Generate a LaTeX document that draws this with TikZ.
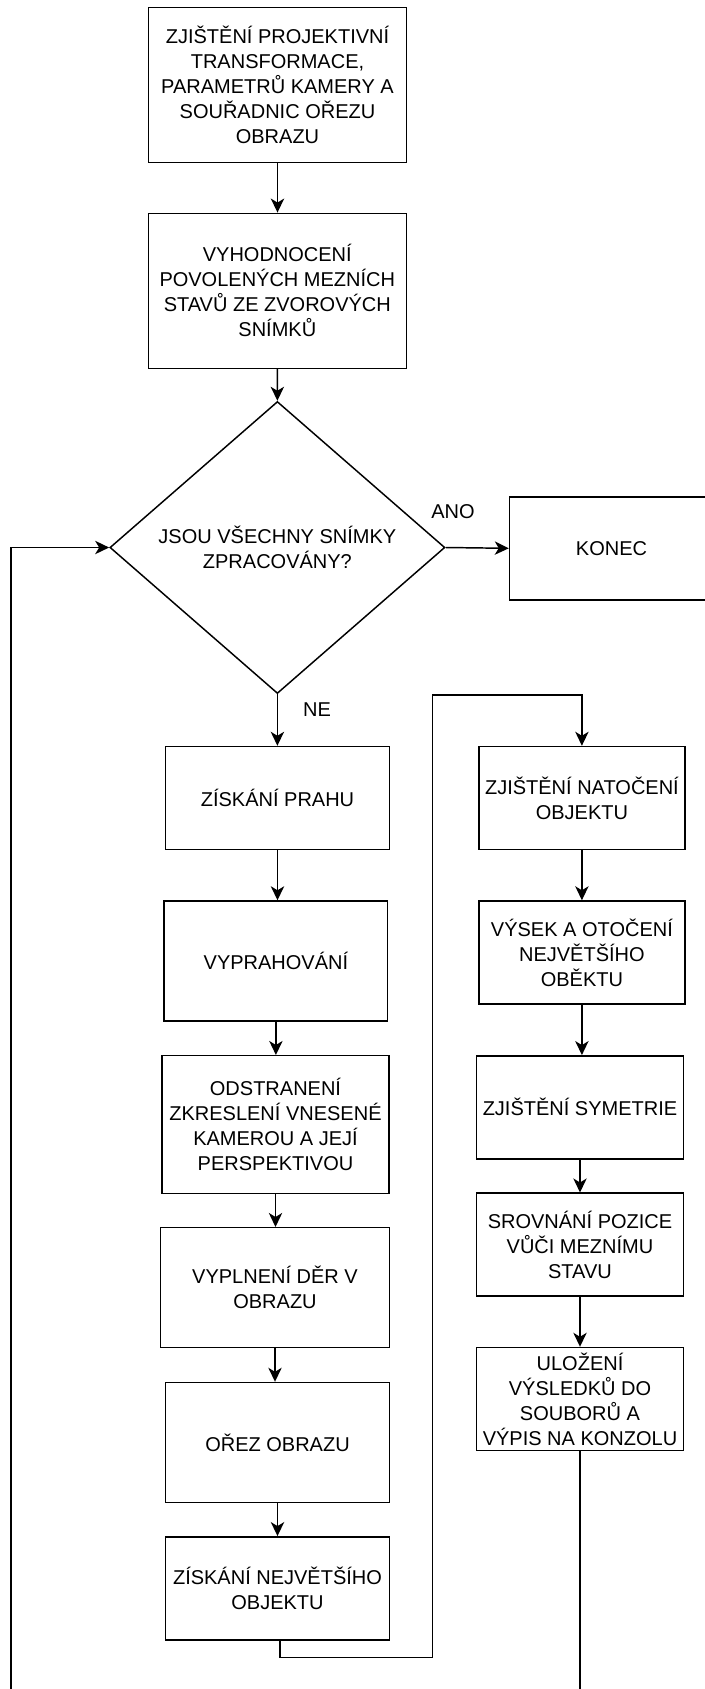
\documentclass[tikz,border=0pt]{standalone}
\usepackage{fontspec}
\setmainfont{Liberation Sans}
\usetikzlibrary{shapes.geometric,arrows.meta}

\tikzset{
  x=0.75pt, y=-0.75pt,
  every node/.style={font=\fontsize{15pt}{18.75pt}\selectfont, align=center, inner sep=0pt},
  stepbox/.style={draw, line width=1.1pt, rectangle, minimum width=#1},
  stepbox/.default=168pt,
  decision/.style={draw, line width=1.1pt, diamond, minimum width=251.25pt, minimum height=219pt},
  flow/.style={line width=1.1pt, -{Stealth[length=10.5pt, width=10pt, inset=3pt]}},
  plain/.style={line width=1.1pt}
}

\begin{document}
\begin{tikzpicture}
\clip (0,0) rectangle (705,1689);
\fill[white] (0,0) rectangle (705,1689);

% main column
\node[stepbox=193.5pt, minimum height=116.25pt] (b1) at (277.5,84.8)
  {ZJIŠTĚNÍ PROJEKTIVNÍ\\TRANSFORMACE,\\PARAMETRŮ KAMERY A\\SOUŘADNIC OŘEZU\\OBRAZU};
\node[stepbox=193.5pt, minimum height=116.25pt] (b2) at (277.3,290.8)
  {VYHODNOCENÍ\\POVOLENÝCH MEZNÍCH\\STAVŮ ZE ZVOROVÝCH\\SNÍMKŮ};
\node[decision] (dec) at (277.4,547.5) {JSOU VŠECHNY SNÍMKY\\ZPRACOVÁNY?};
\node[stepbox=153pt, minimum height=77.25pt] (konec) at (611.5,548.3) {KONEC};

\node[stepbox=168pt, minimum height=77.25pt] (b3) at (277.5,798) {ZÍSKÁNÍ PRAHU};
\node[stepbox=167.6pt, minimum height=90pt] (b4) at (275.9,961) {VYPRAHOVÁNÍ};
\node[stepbox=170.25pt, minimum height=103.2pt] (b5) at (275.5,1124.5)
  {ODSTRANENÍ\\ZKRESLENÍ VNESENÉ\\KAMEROU A JEJÍ\\PERSPEKTIVOU};
\node[stepbox=171.75pt, minimum height=90pt] (b6) at (275,1287.7) {VYPLNENÍ DĚR V\\OBRAZU};
\node[stepbox=168pt, minimum height=90pt] (b7) at (277.5,1442.5) {OŘEZ OBRAZU};
\node[stepbox=168pt, minimum height=77.25pt] (b8) at (277.5,1588.3) {ZÍSKÁNÍ NEJVĚTŠÍHO\\OBJEKTU};

% right column
\node[stepbox=154.5pt, minimum height=77.25pt] (r1) at (581.9,798) {ZJIŠTĚNÍ NATOČENÍ\\OBJEKTU};
\node[stepbox=154.5pt, minimum height=77.25pt] (r2) at (581.9,952.5) {VÝSEK A OTOČENÍ\\NEJVĚTŠÍHO\\OBĚKTU};
\node[stepbox=155.25pt, minimum height=77.25pt] (r3) at (580,1107.3) {ZJIŠTĚNÍ SYMETRIE};
\node[stepbox=155.25pt, minimum height=77.25pt] (r4) at (580,1244.7) {SROVNÁNÍ POZICE\\VŮČI MEZNÍMU\\STAVU};
\node[stepbox=155.25pt, minimum height=77.25pt] (r5) at (580,1399) {ULOŽENÍ\\VÝSLEDKŮ DO\\SOUBORŮ A\\VÝPIS NA KONZOLU};

% branch labels
\node (ano) at (453,511.7) {ANO};
\node (ne) at (317,710) {NE};

% routing points
\coordinate (j1) at (432.6,1657.3);
\coordinate (j2) at (432.6,695);
\coordinate (loopbot) at (11.2,1710);

% connectors
\draw[flow] (b1.south) -- (b1.south |- b2.north);
\draw[flow] (b2.south) -- (dec.north);
\draw[flow] (dec.east) -- (konec.west);
\draw[flow] (dec.south) -- (dec.south |- b3.north);
\draw[flow] (b3.south) -- (b3.south |- b4.north);
\draw[flow] (b4.south) -- (b4.south |- b5.north);
\draw[flow] (b5.south) -- (b5.south |- b6.north);
\draw[flow] (b6.south) -- (b6.south |- b7.north);
\draw[flow] (b7.south) -- (b7.south |- b8.north);
\draw[flow] ([xshift=2pt]b8.south) |- (j1) -- (j2) -| (r1.north);
\draw[flow] (r1.south) -- (r1.south |- r2.north);
\draw[flow] (r2.south) -- (r2.south |- r3.north);
\draw[flow] (r3.south) -- (r3.south |- r4.north);
\draw[flow] (r4.south) -- (r4.south |- r5.north);
\draw[flow] (r5.south) |- (loopbot) |- (dec.west);
\end{tikzpicture}
\end{document}
